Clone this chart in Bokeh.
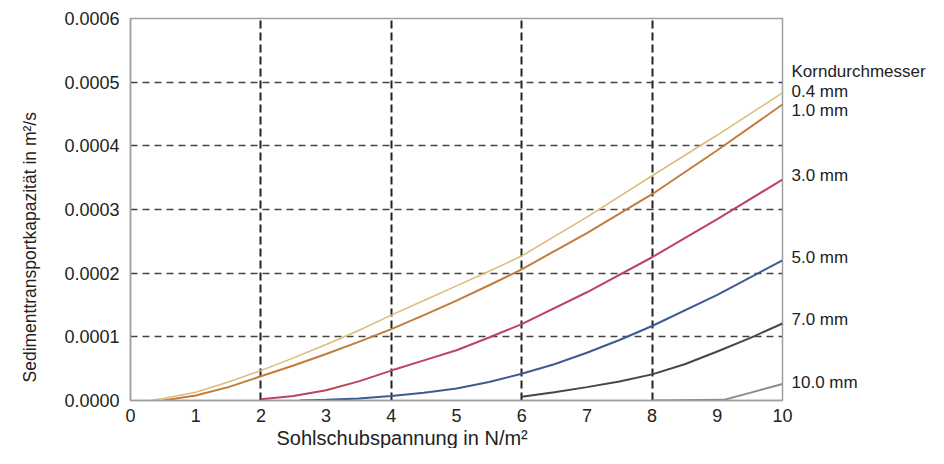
from bokeh.plotting import figure
from bokeh.models import Range1d, FixedTicker, PrintfTickFormatter, LinearAxis, Title
from bokeh.embed import file_html
from bokeh.resources import INLINE

# ---- data ----
x_04 = [0.3, 0.5, 1, 1.5, 2, 2.5, 3, 3.5, 4, 4.5, 5, 5.5, 6, 7, 8, 9, 10]
y_04 = [0.0, 0.000003, 0.000013, 0.000029, 0.000047, 0.000067, 0.000088, 0.000110, 0.000134,
        0.000157, 0.000180, 0.000203, 0.000227, 0.000288, 0.000353, 0.000417, 0.000483]

x_10 = [0.5, 1, 1.5, 2, 2.5, 3, 3.5, 4, 4.5, 5, 5.5, 6, 7, 8, 9, 10]
y_10 = [0.0, 0.000008, 0.000021, 0.000038, 0.000055, 0.000073, 0.000092, 0.000112,
        0.000134, 0.000157, 0.000181, 0.000206, 0.000263, 0.000324, 0.000393, 0.000465]

x_30 = [2, 2.5, 3, 3.5, 4, 4.5, 5, 5.5, 6, 7, 8, 9, 10]
y_30 = [0.000002, 0.000007, 0.000016, 0.000030, 0.000047, 0.000063, 0.000079, 0.000099,
        0.000120, 0.000170, 0.000225, 0.000285, 0.000347]

x_50 = [2.6, 3, 3.5, 4, 4.5, 5, 5.5, 6, 6.5, 7, 7.5, 8, 9, 10]
y_50 = [0.0, 0.000001, 0.000003, 0.000007, 0.000012, 0.000019, 0.000029, 0.000042,
        0.000057, 0.000075, 0.000095, 0.000117, 0.000166, 0.000220]

x_70 = [6, 6.5, 7, 7.5, 8, 8.5, 9, 9.5, 10]
y_70 = [0.000006, 0.000013, 0.000021, 0.000030, 0.000041, 0.000057, 0.000077, 0.000098, 0.000121]

x_100 = [8, 9.1, 9.5, 10]
y_100 = [0.0, 0.000001, 0.000012, 0.000026]

series_names = ["0.4 mm", "1.0 mm", "3.0 mm", "5.0 mm", "7.0 mm", "10.0 mm"]
series_x = [x_04, x_10, x_30, x_50, x_70, x_100]
series_y = [y_04, y_10, y_30, y_50, y_70, y_100]
series_colors = ["#dcbc78", "#c27c3c", "#bb4460", "#3d5c92", "#3e4a48", "#8a8a8a"]
series_widths = [1.5, 2, 2, 2, 2, 2]

legend_title = "Korndurchmesser"
label_y = [0.000485, 0.000455, 0.000354, 0.000225, 0.000127, 0.000029]
title_y = 0.000517

x_ticks = list(range(0, 11))
y_ticks = [0.0, 0.0001, 0.0002, 0.0003, 0.0004, 0.0005, 0.0006]
x_grid = [2, 4, 6, 8]
y_grid = [0.0001, 0.0002, 0.0003, 0.0004, 0.0005]

x_title = "Sohlschubspannung in N/m²"
y_title = "Sedimenttransportkapazität in m²/s"

FONT = "Liberation Sans"
TXT = "#222222"

p = figure(width=928, height=448, output_backend="svg", toolbar_location=None,
           x_range=Range1d(0, 10), y_range=Range1d(0, 0.0006),
           min_border_left=129, min_border_right=145, min_border_top=18, min_border_bottom=47)
p.background_fill_color = "white"
p.border_fill_color = "white"
p.outline_line_color = "#a0a0a0"
p.outline_line_width = 1.5

for xs, ys, c, w in zip(series_x, series_y, series_colors, series_widths):
    p.line(xs, ys, line_color=c, line_width=w)

p.xaxis.ticker = FixedTicker(ticks=x_ticks)
p.yaxis.ticker = FixedTicker(ticks=y_ticks)
p.yaxis.formatter = PrintfTickFormatter(format="%.4f")
for ax in (p.xaxis[0], p.yaxis[0]):
    ax.major_tick_line_color = None
    ax.minor_tick_line_color = None
    ax.major_tick_out = 0
    ax.minor_tick_out = 0
    ax.axis_line_color = "#a0a0a0"
    ax.axis_line_width = 1.5
    ax.major_label_text_font = FONT
    ax.major_label_text_font_size = "18px"
    ax.major_label_text_color = TXT
p.xaxis.major_label_standoff = 8
p.yaxis.major_label_standoff = 11

p.xgrid.ticker = FixedTicker(ticks=x_grid)
p.ygrid.ticker = FixedTicker(ticks=y_grid)
p.xgrid.grid_line_color = "#222222"
p.xgrid.grid_line_width = 2
p.xgrid.grid_line_dash = "8 4"
p.ygrid.grid_line_color = "#444444"
p.ygrid.grid_line_width = 1.5
p.ygrid.grid_line_dash = "7 5"

# right-side labels as a tick-labelled axis
right = LinearAxis(ticker=FixedTicker(ticks=[title_y] + label_y))
right.major_label_overrides = {title_y: legend_title, **{ly: n for ly, n in zip(label_y, series_names)}}
right.axis_line_color = None
right.major_tick_line_color = None
right.minor_tick_line_color = None
right.major_tick_out = 0
right.minor_tick_out = 0
right.major_label_standoff = 9
right.major_label_text_font = FONT
right.major_label_text_font_size = "17px"
right.major_label_text_color = TXT
p.add_layout(right, "right")

# axis titles
p.add_layout(Title(text=x_title, align="left", offset=146, standoff=0, text_font=FONT,
                   text_font_size="20px", text_font_style="normal", text_color=TXT), "below")
p.add_layout(Title(text=y_title, align="left", offset=18, standoff=39, vertical_align="top",
                   text_font=FONT, text_font_size="17.5px", text_font_style="normal",
                   text_color=TXT), "left")

open("out.html", "w").write(file_html(p, INLINE))
